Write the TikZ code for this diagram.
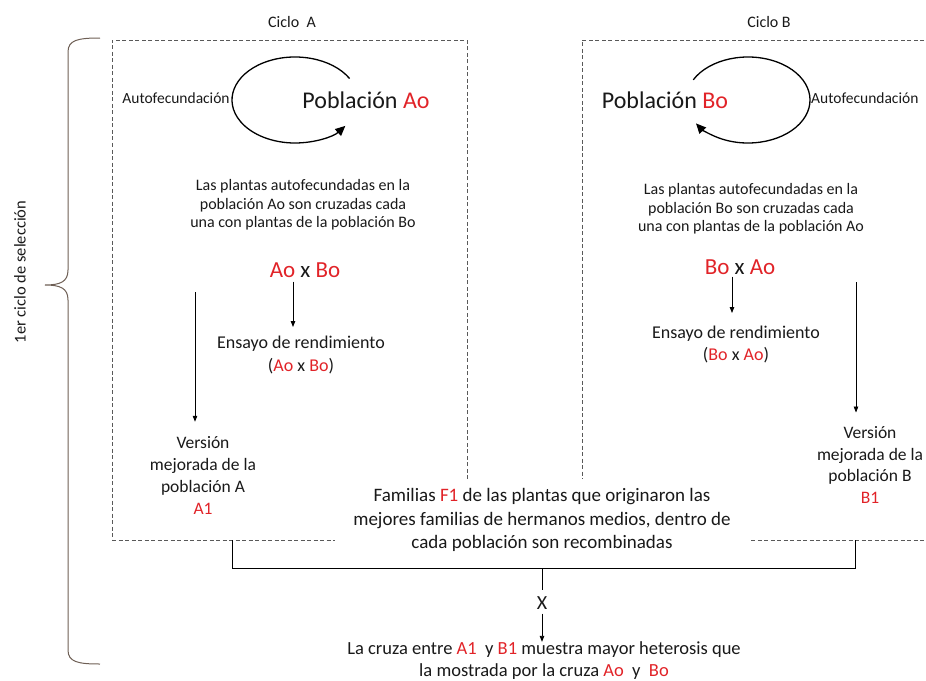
\documentclass[tikz,border=0pt]{standalone}
\usepackage{fontspec}
\setmainfont{Carlito}
\usetikzlibrary{arrows.meta}
\definecolor{pobred}{RGB}{225,35,40}
\definecolor{bracebrown}{RGB}{110,95,85}
\newcommand{\rj}[1]{\textcolor{pobred}{#1}}

\begin{document}
\begin{tikzpicture}[x=1pt,y=-1pt,
  every node/.style={inner sep=0pt, text=black!90},
  smalltxt/.style={font=\fontsize{16}{18.5}\selectfont, align=center},
  midtxt/.style={font=\fontsize{18}{23}\selectfont, align=center},
  versiontxt/.style={font=\fontsize{17.5}{22}\selectfont, align=center},
  bigtxt/.style={font=\fontsize{24}{28}\selectfont},
  crosstxt/.style={font=\fontsize{23}{26}\selectfont},
  cyclebox/.style={draw=black!65, dash pattern=on 4pt off 2.5pt, line width=0.7pt},
  arr/.style={-{Triangle[length=6pt,width=4.5pt]}, line width=0.8pt},
  selfarc/.style={-{Triangle[length=10pt,width=9pt]}, line width=1.3pt}]
\clip (0,0) rectangle (926,680);
\node[cyclebox, minimum width=355pt, minimum height=500pt] (boxA) at (289.5,290) {};
\node[cyclebox, minimum width=363pt, minimum height=500pt] (boxB) at (763.5,290) {};
\node[font=\fontsize{16}{18}\selectfont] (cicloA) at (292,22) {Ciclo\ \ A};
\node[font=\fontsize{16}{18}\selectfont] (cicloB) at (769,22) {Ciclo B};
\node[font=\fontsize{16.5}{18}\selectfont, rotate=90] (primer) at (20,272) {1er ciclo de selección};
\draw[bracebrown, line width=1pt] (100,38) .. controls (78,38) and (68,40) .. (68,52) -- (68,270)
  .. controls (68,282) and (60,285) .. (45,285) .. controls (60,285) and (68,288) .. (68,300)
  -- (68,650) .. controls (68,662) and (78,664) .. (100,664);
\node[bigtxt] (pobA) at (366,100) {Población \rj{Ao}};
\node[font=\fontsize{15.5}{18}\selectfont] (autoA) at (176,98) {Autofecundación};
\coordinate (loopA) at (295,100);
\draw[selfarc] (loopA) ++(-30:63 and 43) arc[start angle=-30, end angle=-323, x radius=63, y radius=43];
\node[bigtxt] (pobB) at (665,100) {Población \rj{Bo}};
\node[font=\fontsize{15.5}{18}\selectfont, anchor=west] (autoB) at (811,98) {Autofecundación};
\coordinate (loopB) at (748,100);
\draw[selfarc] (loopB) ++(208:62 and 43) arc[start angle=208, end angle=507, x radius=62, y radius=43];
\node[smalltxt] (txtA) at (303,205) {Las plantas autofecundadas en la\\población Ao son cruzadas cada\\una con plantas de la población Bo};
\node[smalltxt] (txtB) at (751,209) {Las plantas autofecundadas en la\\población Bo son cruzadas cada\\una con plantas de la población Ao};
\node[crosstxt] (crossA) at (305,270) {\rj{Ao} x \rj{Bo}};
\node[crosstxt] (crossB) at (740,267) {\rj{Bo} x \rj{Ao}};
\node[midtxt] (ensA) at (301,355) {Ensayo de rendimiento\\(\rj{Ao} x \rj{Bo})};
\node[midtxt, font=\fontsize{18}{22}\selectfont] (ensB) at (736,344) {Ensayo de rendimiento\\(\rj{Bo} x \rj{Ao})};
\node[versiontxt] (versA) at (203,475) {Versión\\mejorada de la\\población A\\\rj{A1}};
\node[versiontxt, font=\fontsize{17.5}{21.5}\selectfont] (versB) at (870,465) {Versión\\mejorada de la\\población B\\\rj{B1}};
\draw[arr] (crossA.south -| 293,0) ++(0,4) -- (293,327);
\draw[arr] (crossB.south -| 732,0) ++(0,2) -- (732,313);
\coordinate (longA) at (195,292);
\coordinate (longB) at (856,282);
\draw[arr, shorten >=14pt] (longA) -- (longA |- versA.north);
\draw[arr, shorten >=14pt] (longB) -- (longB |- versB.north);
\node[font=\fontsize{19}{23.5}\selectfont, align=center, fill=white, minimum width=414pt, minimum height=82pt] (famF1) at (542,520)
  {Familias \rj{F1} de las plantas que originaron las\\mejores familias de hermanos medios, dentro de\\cada población son recombinadas};
\coordinate (jA) at (232,540);
\coordinate (jB) at (855,540);
\coordinate (jmid) at (542,568);
\draw[line width=0.8pt] (jA) -- (jA |- jmid) -- (jB |- jmid) -- (jB);
\node[font=\fontsize{20}{22}\selectfont] (xnode) at (542,603) {X};
\node[font=\fontsize{18.5}{22}\selectfont, align=center] (cruza) at (544,661)
  {La cruza entre \rj{A1}\ \ y \rj{B1} muestra mayor heterosis que\\la mostrada por la cruza \rj{Ao}\ \ y\ \ \rj{Bo}};
\draw[line width=0.8pt] (jmid) -- (542,590);
\draw[arr] (xnode.south) ++(0,4) -- (cruza.north -| xnode);
\end{tikzpicture}
\end{document}
